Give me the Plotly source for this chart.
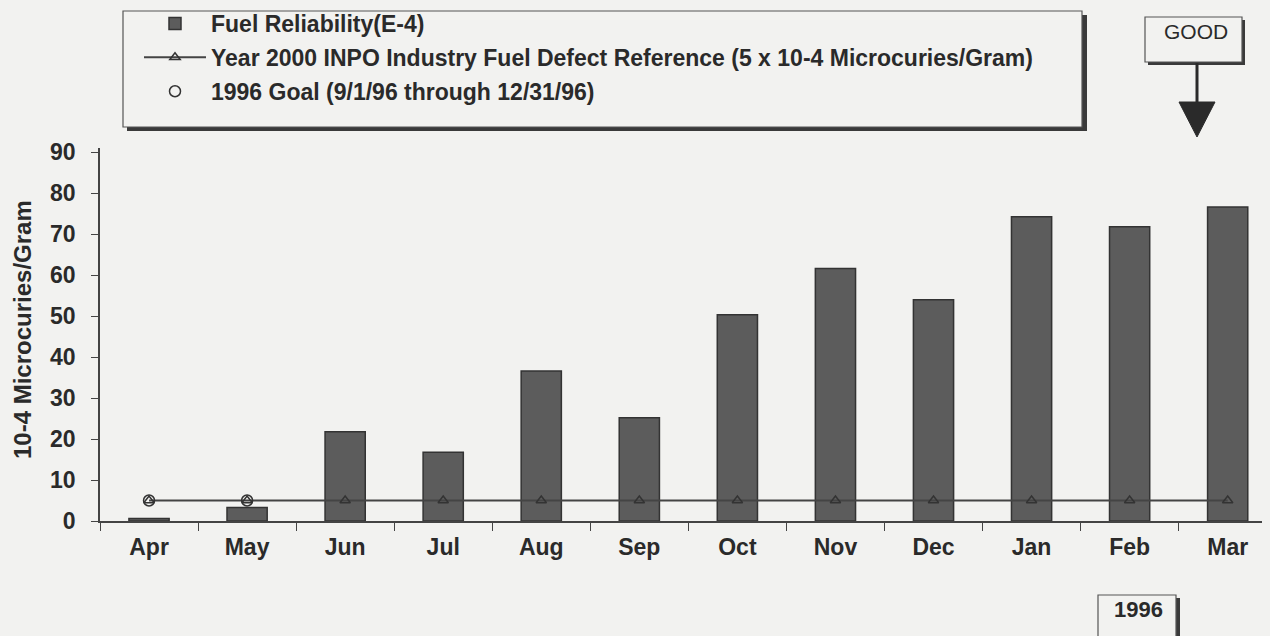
import plotly.graph_objects as go

months = ["Apr", "May", "Jun", "Jul", "Aug", "Sep", "Oct", "Nov", "Dec", "Jan", "Feb", "Mar"]
fuel_reliability = [0.6, 3.3, 21.8, 16.8, 36.6, 25.2, 50.3, 61.6, 54.0, 74.2, 71.8, 76.6]
inpo_reference = [5, 5, 5, 5, 5, 5, 5, 5, 5, 5, 5, 5]
goal_months = ["Apr", "May"]
goal_values = [5, 5]
y_ticks = [0, 10, 20, 30, 40, 50, 60, 70, 80, 90]

W, H = 1270, 636
L, R, T, B = 100, 1262, 148, 521
BG = "#f2f2f0"
INK = "#2a2a2a"
FONT = "Liberation Sans, Arial, sans-serif"


def px(x):
    return (x - L) / (R - L)


def py(y):
    return (B - y) / (B - T)


fig = go.Figure()
fig.add_trace(go.Bar(
    x=months, y=fuel_reliability, name="Fuel Reliability(E-4)",
    marker=dict(color="#5c5c5c", line=dict(color="#333333", width=1.5)),
    width=0.41, legendgroup="a",
))
fig.add_trace(go.Scatter(
    x=months, y=inpo_reference, mode="lines+markers",
    name="Year 2000 INPO Industry Fuel Defect Reference (5 x 10-4 Microcuries/Gram)",
    line=dict(color="#444444", width=2),
    marker=dict(symbol="triangle-up-open", size=9, color="#333333", line=dict(width=1.5)),
    legendgroup="b",
))
fig.add_trace(go.Scatter(
    x=goal_months, y=goal_values, mode="lines+markers",
    name="1996 Goal (9/1/96 through 12/31/96)",
    line=dict(color="rgba(0,0,0,0)", width=2),
    marker=dict(symbol="circle-open", size=11, color="#333333", line=dict(width=1.5)),
    legendgroup="c",
))

shapes = []
# legend box with shadow
shapes.append(dict(type="rect", xref="paper", yref="paper",
                   x0=px(127), x1=px(1087), y0=py(131), y1=py(15),
                   fillcolor="#3a3a3a", line=dict(width=0), layer="below"))
shapes.append(dict(type="rect", xref="paper", yref="paper",
                   x0=px(123), x1=px(1082), y0=py(127), y1=py(11),
                   fillcolor=BG, line=dict(color="#555555", width=1.2), layer="below"))
# GOOD box
shapes.append(dict(type="rect", xref="paper", yref="paper",
                   x0=px(1148), x1=px(1245), y0=py(65), y1=py(20),
                   fillcolor="#3a3a3a", line=dict(width=0)))
shapes.append(dict(type="rect", xref="paper", yref="paper",
                   x0=px(1145), x1=px(1242), y0=py(62), y1=py(17),
                   fillcolor=BG, line=dict(color="#555555", width=1.2)))
shapes.append(dict(type="line", xref="paper", yref="paper",
                   x0=px(1197), x1=px(1197), y0=py(63), y1=py(104),
                   line=dict(color=INK, width=3)))
shapes.append(dict(type="path", xref="paper", yref="paper",
                   path=f"M {px(1179)} {py(102)} L {px(1215)} {py(102)} L {px(1197)} {py(137)} Z",
                   fillcolor=INK, line=dict(color=INK, width=1)))
# 1996 box
shapes.append(dict(type="rect", xref="paper", yref="paper",
                   x0=px(1101), x1=px(1180), y0=py(640), y1=py(598),
                   fillcolor="#3a3a3a", line=dict(width=0)))
shapes.append(dict(type="rect", xref="paper", yref="paper",
                   x0=px(1098), x1=px(1176), y0=py(640), y1=py(595),
                   fillcolor=BG, line=dict(color="#555555", width=1.2)))

annotations = [
    dict(text="GOOD", xref="paper", yref="paper", x=px(1196), y=py(31),
         xanchor="center", yanchor="middle", showarrow=False,
         font=dict(family=FONT, size=21, color=INK, weight="normal")),
    dict(text="1996", xref="paper", yref="paper", x=px(1138), y=py(609),
         xanchor="center", yanchor="middle", showarrow=False,
         font=dict(family=FONT, size=22, color=INK, weight="bold")),
    dict(text="10-4 Microcuries/Gram", xref="paper", yref="paper", x=px(22), y=py(330),
         xanchor="center", yanchor="middle", textangle=-90, showarrow=False,
         font=dict(family=FONT, size=24, color=INK, weight="bold")),
]

fig.update_layout(
    width=W, height=H,
    margin=dict(l=L, r=W - R, t=T, b=H - B, autoexpand=False),
    paper_bgcolor=BG, plot_bgcolor=BG,
    font=dict(family=FONT, size=23, color=INK, weight="bold"),
    showlegend=True,
    legend=dict(xref="container", yref="container", x=139 / W, y=1 - 2 / H,
                xanchor="left", yanchor="top", bgcolor="rgba(0,0,0,0)",
                borderwidth=0, traceorder="grouped", tracegroupgap=1,
                itemwidth=62,
                font=dict(family=FONT, size=23, color=INK, weight="bold")),
    shapes=shapes, annotations=annotations,
)
fig.update_xaxes(
    range=[-0.5, 11.35], showline=True, linecolor="#444444", linewidth=2,
    ticks="outside", tickson="boundaries", ticklen=8, tickcolor="#444444",
    showgrid=False, zeroline=False, ticklabelstandoff=4,
    tickfont=dict(family=FONT, size=23, color=INK, weight="bold"),
)
fig.update_yaxes(
    range=[0, 91], tickvals=y_ticks, showline=True, linecolor="#444444", linewidth=1.5,
    ticks="outside", ticklen=7, tickcolor="#444444", showgrid=False, zeroline=False,
    ticklabelstandoff=11,
    tickfont=dict(family=FONT, size=23, color=INK, weight="bold"),
)

fig.write_html("out.html", config={"displayModeBar": False},
               post_script="document.body.style.margin='0';")
